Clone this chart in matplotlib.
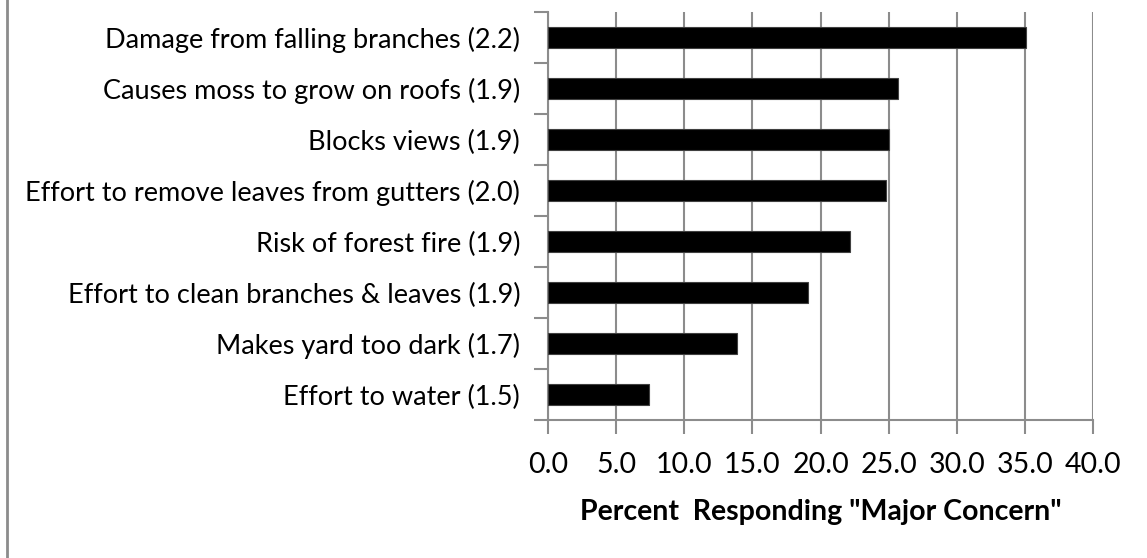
import matplotlib
matplotlib.use("Agg")
import matplotlib.pyplot as plt
from matplotlib.lines import Line2D
import numpy as np

# Survey concerns, top to bottom, with mean rating in parentheses
concerns = [
    "Damage from falling branches (2.2)",
    "Causes moss to grow on roofs (1.9)",
    "Blocks views (1.9)",
    "Effort to remove leaves from gutters (2.0)",
    "Risk of forest fire (1.9)",
    "Effort to clean branches & leaves (1.9)",
    "Makes yard too dark (1.7)",
    "Effort to water (1.5)",
]
pct_major = [35.1, 25.7, 25.0, 24.8, 22.2, 19.1, 13.9, 7.4]
x_ticks = [0, 5, 10, 15, 20, 25, 30, 35, 40]
x_title = 'Percent  Responding "Major Concern"'

plt.rcParams["font.family"] = ["Lato", "DejaVu Sans"]

W, H = 1147, 558
fig = plt.figure(figsize=(W / 100, H / 100), dpi=100)
ax = fig.add_axes([548 / W, 1 - 420 / H, (1093 - 548) / W, (420 - 12) / H])

grid_c = "#8c8c8c"
ypos = np.arange(len(concerns))
ax.barh(ypos, pct_major, height=0.4, color="black", edgecolor="#404040",
        linewidth=0.8, zorder=3)

ax.set_xlim(0, 40)
ax.set_ylim(len(concerns) - 0.5, -0.5)

ax.set_xticks(x_ticks)
ax.set_xticklabels([f"{t:.1f}" for t in x_ticks], fontsize=20.5)
ax.tick_params(axis="x", direction="out", length=10, width=1.5, color=grid_c,
               pad=13)
ax.xaxis.grid(True, color=grid_c, linewidth=1.5, zorder=0)

ax.set_yticks(ypos)
ax.set_yticklabels(concerns, fontsize=19.5)
ax.tick_params(axis="y", which="major", length=0, pad=20)
ax.set_yticks(np.arange(-0.5, len(concerns), 1.0), minor=True)
ax.tick_params(axis="y", which="minor", direction="out", length=10,
               width=1.5, color=grid_c)

for side in ("top", "right"):
    ax.spines[side].set_visible(False)
for side in ("left", "bottom"):
    ax.spines[side].set_color(grid_c)
    ax.spines[side].set_linewidth(1.5)

ax.set_xlabel(x_title, fontsize=20.5, fontweight="bold", labelpad=15)

# Frame edge on the left side of the chart area
fig.add_artist(Line2D([7 / W, 7 / W], [0, 1], transform=fig.transFigure,
                      color=grid_c, linewidth=2))

fig.savefig("out.png", dpi=100, facecolor="white")
